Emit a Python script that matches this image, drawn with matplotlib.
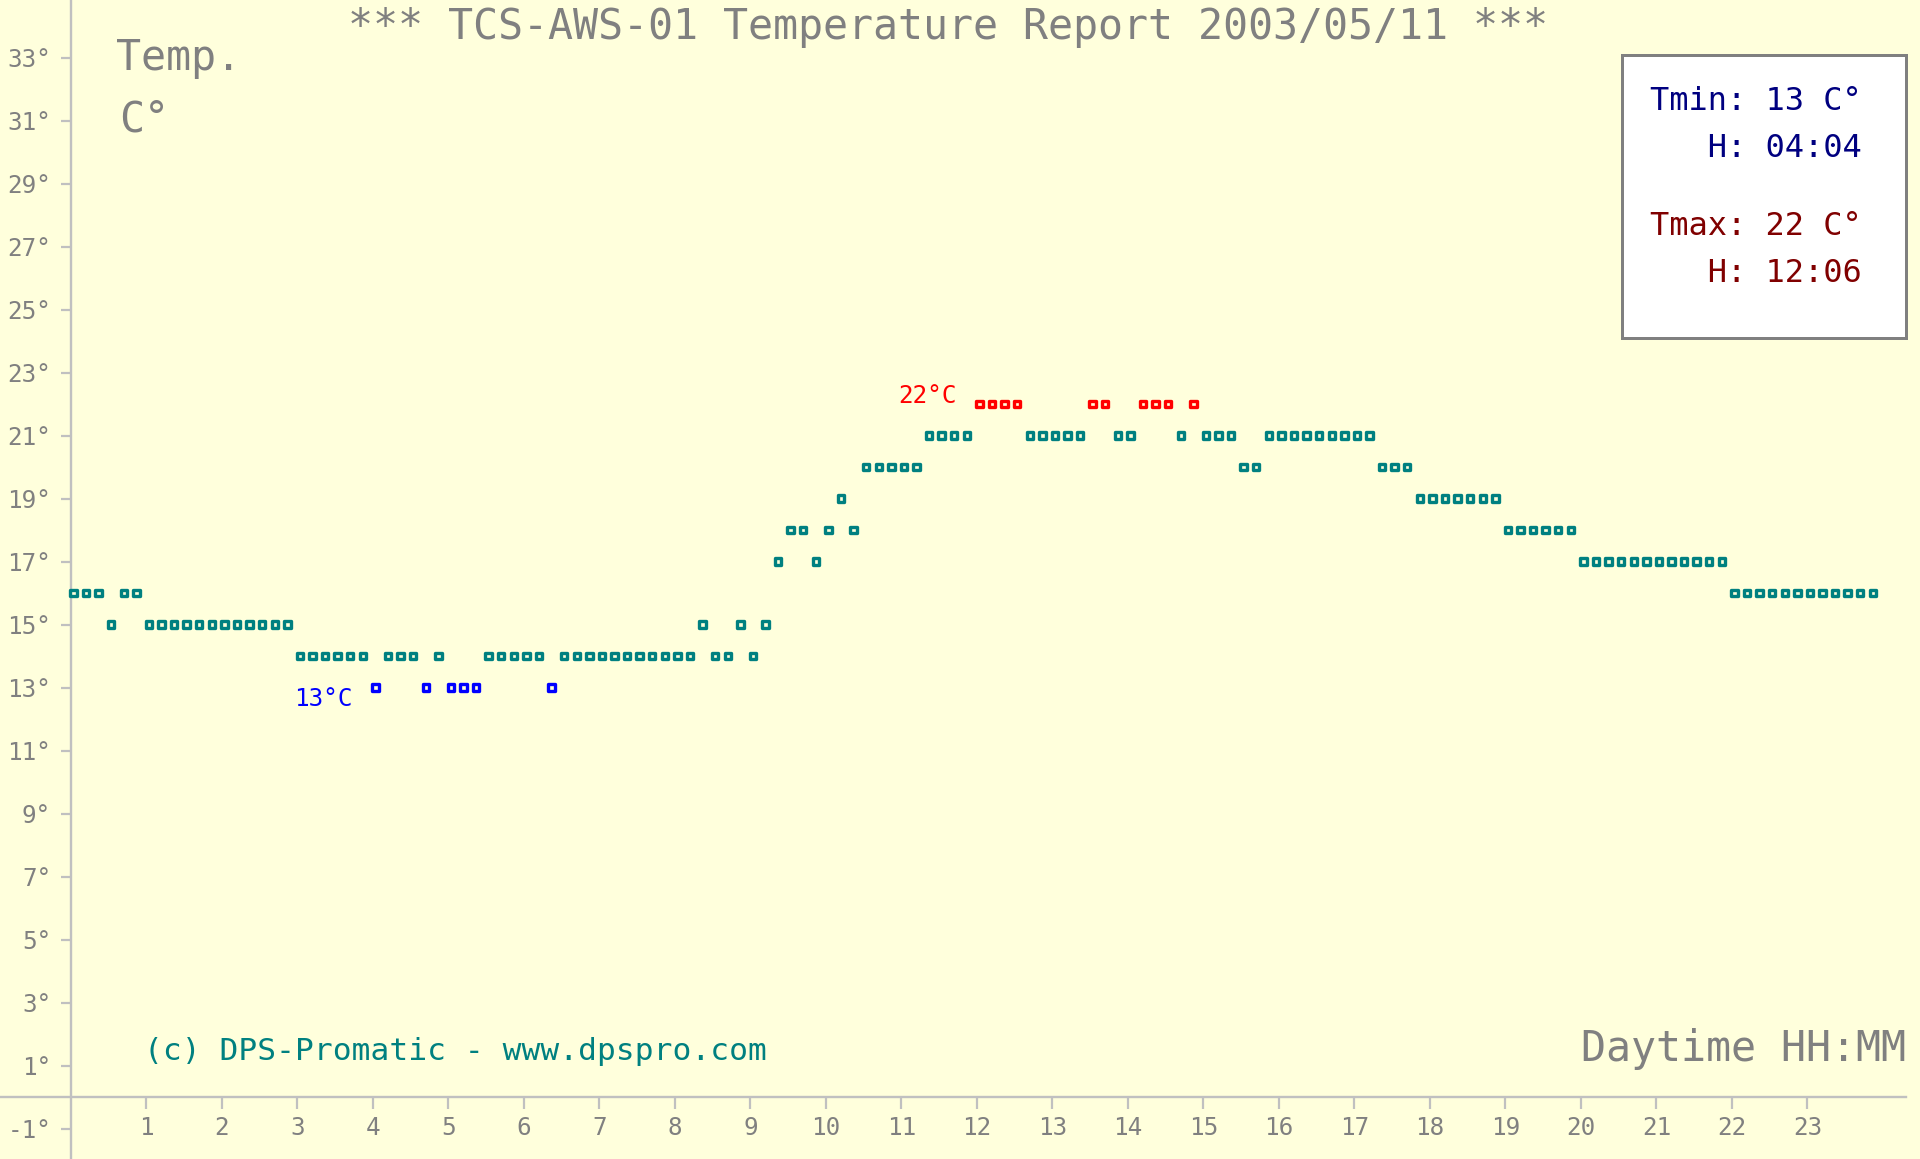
import numpy as np
import matplotlib.pyplot as plt
from matplotlib.patches import Rectangle

plt.rcParams['font.family'] = ['DejaVu Sans Mono', 'DejaVu Sans']

# samples every 10 minutes (minute of the day)
sample_minutes = np.arange(0, 24 * 60, 10) + 2

# temperature readings, deg C, one per sample
temps = [16, 16, 16, 15, 16, 16,
         15, 15, 15, 15, 15, 15, 15, 15, 15, 15, 15, 15,
         14, 14, 14, 14, 14, 14, 13, 14, 14, 14, 13, 14,
         13, 13, 13, 14, 14, 14, 14, 14, 13,
         14, 14, 14, 14, 14, 14, 14, 14, 14, 14, 14,
         15, 14, 14, 15, 14, 15,
         17, 18, 18, 17, 18, 19, 18,
         20, 20, 20, 20, 20,
         21, 21, 21, 21,
         22, 22, 22, 22,
         21, 21, 21, 21, 21,
         22, 22, 21, 21, 22, 22, 22, 21, 22,
         21, 21, 21, 20, 20,
         21, 21, 21, 21, 21, 21, 21, 21, 21,
         20, 20, 20,
         19, 19, 19, 19, 19, 19, 19,
         18, 18, 18, 18, 18, 18,
         17, 17, 17, 17, 17, 17, 17, 17, 17, 17, 17, 17,
         16, 16, 16, 16, 16, 16, 16, 16, 16, 16, 16, 16]

hour_ticks = list(range(1, 24))
temp_ticks = list(range(-1, 34, 2))

title = "*** TCS-AWS-01 Temperature Report 2003/05/11 ***"
tmin_time = "04:04"
tmax_time = "12:06"

BG = '#ffffdc'
TEAL = '#008080'
LINE = '#c0c0c0'
GREY = '#808080'

fig = plt.figure(figsize=(19.2, 11.59), dpi=100, facecolor=BG)
ax = fig.add_axes([0, 0, 1, 1], facecolor=BG)

hours = sample_minutes / 60
t = np.array(temps)
tmin, tmax = t.min(), t.max()
edge = [('#0000ff' if v == tmin else '#ff0000' if v == tmax else TEAL) for v in t]

ax.scatter(hours, t, marker='s', s=4.6 ** 2, facecolors=BG, edgecolors=edge,
           linewidths=2.4, zorder=3)

# first min / max labels
i_min = int(np.argmax(t == tmin))
i_max = int(np.argmax(t == tmax))
ax.annotate(f"{tmin}°C", xy=(hours[i_min], tmin), xytext=(-16.6, 0),
            textcoords='offset points', ha='right', va='top',
            color='#0000ff', fontsize=17.5)
ax.annotate(f"{tmax}°C", xy=(hours[i_max], tmax), xytext=(-16.6, 1),
            textcoords='offset points', ha='right', va='baseline',
            color='#ff0000', fontsize=17.5)

ax.set_xlim(-70.9 / 75.5, (1920 - 70.9) / 75.5)
ax.set_ylim(-62 / 31.5, 1097 / 31.5)

for s in ['top', 'right']:
    ax.spines[s].set_visible(False)
ax.spines['left'].set_position(('data', 0))
ax.spines['bottom'].set_position(('data', 0))
ax.spines['bottom'].set_bounds(ax.get_xlim()[0], 24.3)
for s in ['left', 'bottom']:
    ax.spines[s].set_color(LINE)
    ax.spines[s].set_linewidth(1.7)

ax.set_xticks(hour_ticks)
ax.set_xticklabels([str(h) for h in hour_ticks])
ax.set_yticks(temp_ticks)
ax.set_yticklabels([f"{v}°" for v in temp_ticks])
ax.tick_params(axis='y', direction='out', length=7.2, width=1.6, color=LINE,
               labelcolor=GREY, labelsize=17.5, pad=7)
ax.tick_params(axis='x', direction='out', length=8.6, width=1.6, color=LINE,
               labelcolor=GREY, labelsize=17.5, pad=5)

# texts
fig.text(0.4938, 1 - 39 / 1159, title, ha='center', va='baseline',
         color=GREY, fontsize=30)
fig.text(116 / 1920, 1 - 70 / 1159, "Temp.", ha='left', va='baseline',
         color=GREY, fontsize=30)
fig.text(119 / 1920, 1 - 131 / 1159, "C°", ha='left', va='baseline',
         color=GREY, fontsize=30)
fig.text(1906 / 1920, 1 - 1061 / 1159, "Daytime HH:MM", ha='right', va='baseline',
         color=GREY, fontsize=30)
fig.text(144 / 1920, 1 - 1060 / 1159, "(c) DPS-Promatic - www.dpspro.com",
         ha='left', va='baseline', color=TEAL, fontsize=22.5)

# min / max box
box = Rectangle((1621.7 / 1920, 1 - 338 / 1159), (1906 - 1621.7) / 1920, (338 - 55) / 1159,
                transform=fig.transFigure, facecolor='white', edgecolor=GREY,
                linewidth=2.16, zorder=5)
fig.patches.append(box)
bx = 1650 / 1920
fig.text(bx, 1 - 110 / 1159, f"Tmin: {tmin} C°", color='#000080', fontsize=23, zorder=6)
fig.text(bx, 1 - 157 / 1159, f"   H: {tmin_time}", color='#000080', fontsize=23, zorder=6)
fig.text(bx, 1 - 235 / 1159, f"Tmax: {tmax} C°", color='#800000', fontsize=23, zorder=6)
fig.text(bx, 1 - 282 / 1159, f"   H: {tmax_time}", color='#800000', fontsize=23, zorder=6)

fig.savefig('out.png', dpi=100, facecolor=BG)
